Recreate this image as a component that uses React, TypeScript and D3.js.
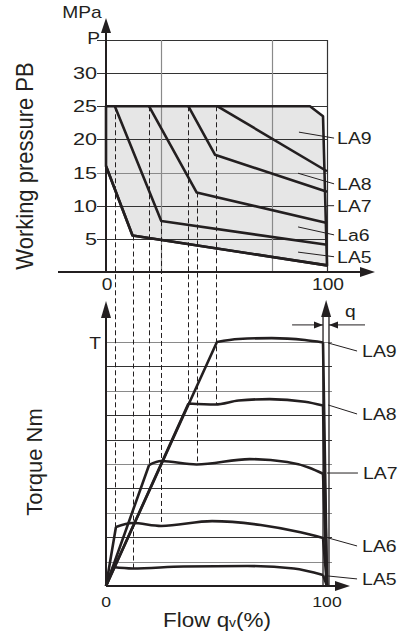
import React from 'react';
import * as d3 from 'd3';

type Pt = [number, number];

// ---- top chart: working pressure (MPa) against flow (%) ----
const flowTicks = [0, 100];
const flowGrid = [25, 75, 100];
const pressureTicks = [5, 10, 15, 20, 25, 30];
const pressureGrid = [5, 10, 15, 20, 25, 30, 35];
const pressureMax = 35; // shown as "P"

const envelope: Pt[] = [[0, 25], [92.3, 25], [98.2, 23.5], [100, 1], [12, 5.5], [0, 16]];
const pressureLA5: Pt[] = [[0, 16], [12, 5.5], [100, 1]];
const pressureLA6: Pt[] = [[4, 25], [25, 7.7], [100, 4.1]];
const pressureLA7: Pt[] = [[19.5, 25], [41, 12], [100, 7.4]];
const pressureLA8: Pt[] = [[37.3, 25], [49.3, 17.7], [100, 12.1]];
const pressureLA9: Pt[] = [[50.5, 25], [100, 15.2]];

// ---- bottom chart: torque (T = 10) against flow (%) ----
const torqueGrid = [1, 2, 3, 4, 5, 6, 7, 8, 9, 10];
const torqueMax = 10; // shown as "T"
const torqueLA5: Pt[] = [[0, 0], [3.2, 0.78], [12, 0.72], [35, 0.8], [64, 0.82], [85, 0.72], [98.2, 0.45], [100, 0]];
const torqueLA6: Pt[] = [[0, 0], [4.5, 2.42], [12, 2.58], [25, 2.46], [48, 2.66], [70, 2.5], [88, 2.2], [98.2, 1.97], [100, 0]];
const torqueLA7: Pt[] = [[0, 0], [19.5, 4.96], [25, 5.12], [41, 4.98], [65, 5.2], [82, 5.08], [92, 4.85], [98.2, 4.6], [100, 0]];
const torqueLA8: Pt[] = [[0, 0], [37.3, 7.48], [49.5, 7.44], [60, 7.6], [74, 7.66], [90, 7.55], [98.2, 7.4], [100, 0]];
const torqueLA9: Pt[] = [[0, 0], [50.2, 10], [60, 10.12], [75, 10.16], [90, 10.08], [98.2, 9.98], [100, 0]];

// dashed guides: flow, pressure where it starts, torque where it ends
const guides: [number, number, number][] = [
  [4, 25, 2.42], [12, 5.5, 0.74], [19.5, 25, 4.96], [25, 7.7, 2.46],
  [37.3, 25, 7.48], [41, 12, 4.98], [49.8, 25, 7.44],
];

const leak: Pt = [98.2, 100.9]; // the "q" gap

const topLabels = [
  { name: 'LA9', from: [87.3, 21.1], to: [103.2, 20.2] },
  { name: 'LA8', from: [86.9, 14.9], to: [103.2, 13.3] },
  { name: 'LA7', from: [100, 10], to: [103.2, 10] },
  { name: 'La6', from: [86.9, 6.8], to: [103.2, 5.6] },
  { name: 'LA5', from: [86.9, 3.0], to: [103.2, 2.3] },
];
const bottomLabels = [
  { name: 'LA9', from: [100.5, 9.96], to: [113.6, 9.63] },
  { name: 'LA8', from: [100.5, 7.42], to: [113.6, 7.05] },
  { name: 'LA7', from: [100, 4.63], to: [114, 4.63] },
  { name: 'LA6', from: [100.5, 1.97], to: [113.6, 1.64] },
  { name: 'LA5', from: [100.5, 0.41], to: [113.6, 0.29] },
];

const ink = '#231f20';
const grey = '#8a8a8a';
const font = '"Liberation Sans", Arial, Helvetica, sans-serif';

const x = d3.scaleLinear().domain([0, 100]).range([106, 327]);
const yP = d3.scaleLinear().domain([0, pressureMax]).range([272, 40]);
const yT = d3.scaleLinear().domain([0, torqueMax]).range([586, 342]);
const crisp = (v: number) => Math.round(v) + 0.5;

const lineP = d3.line<Pt>().x(d => x(d[0])).y(d => yP(d[1]));
const lineT = d3.line<Pt>().x(d => x(d[0])).y(d => yT(d[1]));
const curveT = d3.line<Pt>().x(d => x(d[0])).y(d => yT(d[1])).curve(d3.curveMonotoneX);

function Txt({ x: tx, y: ty, children, anchor = 'start', size = 16, sx = 1.2 }: any) {
  return (
    <text transform={`translate(${tx},${ty}) scale(${sx},1)`} textAnchor={anchor}
      fontSize={size} fontFamily={font} fill={ink}>{children}</text>
  );
}

function arrow(tx: number, ty: number, dir: string, len = 15, half = 5) {
  if (dir === 'up') return `M${tx},${ty}L${tx - half},${ty + len}L${tx + half},${ty + len}Z`;
  if (dir === 'right') return `M${tx},${ty}L${tx - len},${ty - half}L${tx - len},${ty + half}Z`;
  return `M${tx},${ty}L${tx + len},${ty - half}L${tx + len},${ty + half}Z`;
}

function torquePath(s: Pt[]) {
  const n = s.length;
  return (lineT(s.slice(0, 2)) || '') + (curveT(s.slice(1, n - 1)) || '') + (lineT(s.slice(n - 2)) || '');
}

const greyTorque = new Set([10, 8, 5, 3, 1]);

export default function App() {
  const pSeries = [pressureLA5, pressureLA6, pressureLA7, pressureLA8, pressureLA9];
  const tSeries = [torqueLA5, torqueLA6, torqueLA7, torqueLA8, torqueLA9];
  return (
    <svg width={399} height={637} style={{ position: 'absolute', left: 0, top: 0, background: '#fff' }}>
      {/* shaded operating area */}
      <path d={lineP(envelope) + 'Z'} fill="#e6e6e6" stroke="none" />

      {/* top grid */}
      {pressureGrid.map(p => (
        <line key={'pg' + p} x1={97} x2={x(100)} y1={crisp(yP(p))} y2={crisp(yP(p))}
          stroke={p === 15 ? grey : '#333'} strokeWidth={1.2} />
      ))}
      {flowGrid.map(f => (
        <line key={'fg' + f} x1={crisp(x(f))} x2={crisp(x(f))} y1={yP(pressureMax)} y2={yP(0)}
          stroke={f === 100 ? '#333' : grey} strokeWidth={1.2} />
      ))}

      {/* bottom grid */}
      {torqueGrid.map(t => (
        <line key={'tg' + t} x1={x(0)} x2={332} y1={crisp(yT(t))} y2={crisp(yT(t))}
          stroke={greyTorque.has(t) ? grey : '#333'} strokeWidth={1.2} />
      ))}

      {/* dashed guides */}
      {guides.map(([f, p, t], i) => (
        <line key={'g' + i} x1={crisp(x(f))} x2={crisp(x(f))} y1={yP(p)} y2={yT(t)}
          stroke={ink} strokeWidth={1} strokeDasharray="5,3" />
      ))}

      {/* top curves */}
      {pSeries.map((s, i) => (
        <path key={'ps' + i} d={lineP(s) || ''} fill="none" stroke={ink} strokeWidth={2.6} strokeLinejoin="round" />
      ))}
      <path d={lineP(envelope) + 'Z'} fill="none" stroke={ink} strokeWidth={2.6} strokeLinejoin="round" />

      {/* top axes */}
      <line x1={58} x2={362} y1={yP(0)} y2={yP(0)} stroke={ink} strokeWidth={2} />
      <path d={arrow(375, yP(0), 'right')} fill={ink} />
      <line x1={x(0)} x2={x(0)} y1={yP(0)} y2={32} stroke={ink} strokeWidth={2} />
      <path d={arrow(x(0), 18, 'up')} fill={ink} />

      {/* leakage lines and arrow at 100 */}
      <line x1={x(leak[0])} x2={x(leak[0])} y1={316} y2={yT(0)} stroke={ink} strokeWidth={1.3} />
      <line x1={x(leak[1])} x2={x(leak[1])} y1={316} y2={yT(0)} stroke={ink} strokeWidth={1.3} />
      <path d={arrow(x(99.6), 300, 'up', 17, 5)} fill={ink} />
      <line x1={x(84.2)} x2={x(leak[0])} y1={yT(10.7)} y2={yT(10.7)} stroke={ink} strokeWidth={1} />
      <path d={arrow(x(leak[0]), yT(10.7), 'right', 9, 3.5)} fill={ink} />
      <line x1={x(117.2)} x2={x(leak[1])} y1={yT(10.7)} y2={yT(10.7)} stroke={ink} strokeWidth={1} />
      <path d={arrow(x(leak[1]), yT(10.7), 'left', 9, 3.5)} fill={ink} />
      <Txt x={x(110.6)} y={317} anchor="middle" size={16}>q</Txt>

      {/* bottom curves */}
      {tSeries.map((s, i) => (
        <path key={'ts' + i} d={torquePath(s)} fill="none" stroke={ink} strokeWidth={2.6} strokeLinejoin="round" />
      ))}

      {/* bottom axes */}
      <line x1={x(0)} x2={338} y1={yT(0)} y2={yT(0)} stroke={ink} strokeWidth={2} />
      <path d={arrow(350, yT(0), 'right')} fill={ink} />
      <line x1={x(0)} x2={x(0)} y1={yT(0)} y2={314} stroke={ink} strokeWidth={2} />
      <path d={arrow(x(0), 301, 'up', 17, 5)} fill={ink} />

      {/* leaders and labels */}
      {topLabels.map(l => (
        <g key={'tl' + l.name}>
          <line x1={x(l.from[0])} y1={yP(l.from[1])} x2={x(l.to[0])} y2={yP(l.to[1])} stroke={ink} strokeWidth={1} />
          <Txt x={x(l.to[0]) + 3} y={yP(l.to[1]) + 6} size={16.5} sx={1.18}>{l.name}</Txt>
        </g>
      ))}
      {bottomLabels.map(l => (
        <g key={'bl' + l.name}>
          <line x1={x(l.from[0])} y1={yT(l.from[1])} x2={x(l.to[0])} y2={yT(l.to[1])} stroke={ink} strokeWidth={1} />
          <Txt x={x(l.to[0]) + 5} y={yT(l.to[1]) + 6} size={16.5} sx={1.18}>{l.name}</Txt>
        </g>
      ))}

      {/* tick labels */}
      {pressureTicks.map(p => (
        <Txt key={'pt' + p} x={97} y={yP(p) + 6} anchor="end" size={16} sx={1.35}>{p}</Txt>
      ))}
      <Txt x={100} y={yP(pressureMax) + 4} anchor="end" size={16}>P</Txt>
      <Txt x={82} y={18} anchor="middle" size={16}>MPa</Txt>
      {flowTicks.map(f => (
        <Txt key={'ft' + f} x={x(f) + 1} y={290} anchor="middle" size={16}>{f}</Txt>
      ))}
      {flowTicks.map(f => (
        <Txt key={'fb' + f} x={x(f)} y={607} anchor="middle" size={15} sx={1.17}>{f}</Txt>
      ))}
      <Txt x={95} y={yT(torqueMax) + 7} anchor="middle" size={16}>T</Txt>

      {/* axis titles */}
      <text transform="translate(33,166) rotate(-90) scale(1,1.08)" textAnchor="middle"
        fontSize={22} fontFamily={font} fill={ink}>Working pressure PB</text>
      <text transform="translate(42,462) rotate(-90)" textAnchor="middle"
        fontSize={22} fontFamily={font} fill={ink}>Torque Nm</text>
      <text transform="translate(217,627) scale(1.07,1)" textAnchor="middle"
        fontSize={21} fontFamily={font} fill={ink}>
        Flow q<tspan fontSize={13}>v</tspan>(%)
      </text>
    </svg>
  );
}
